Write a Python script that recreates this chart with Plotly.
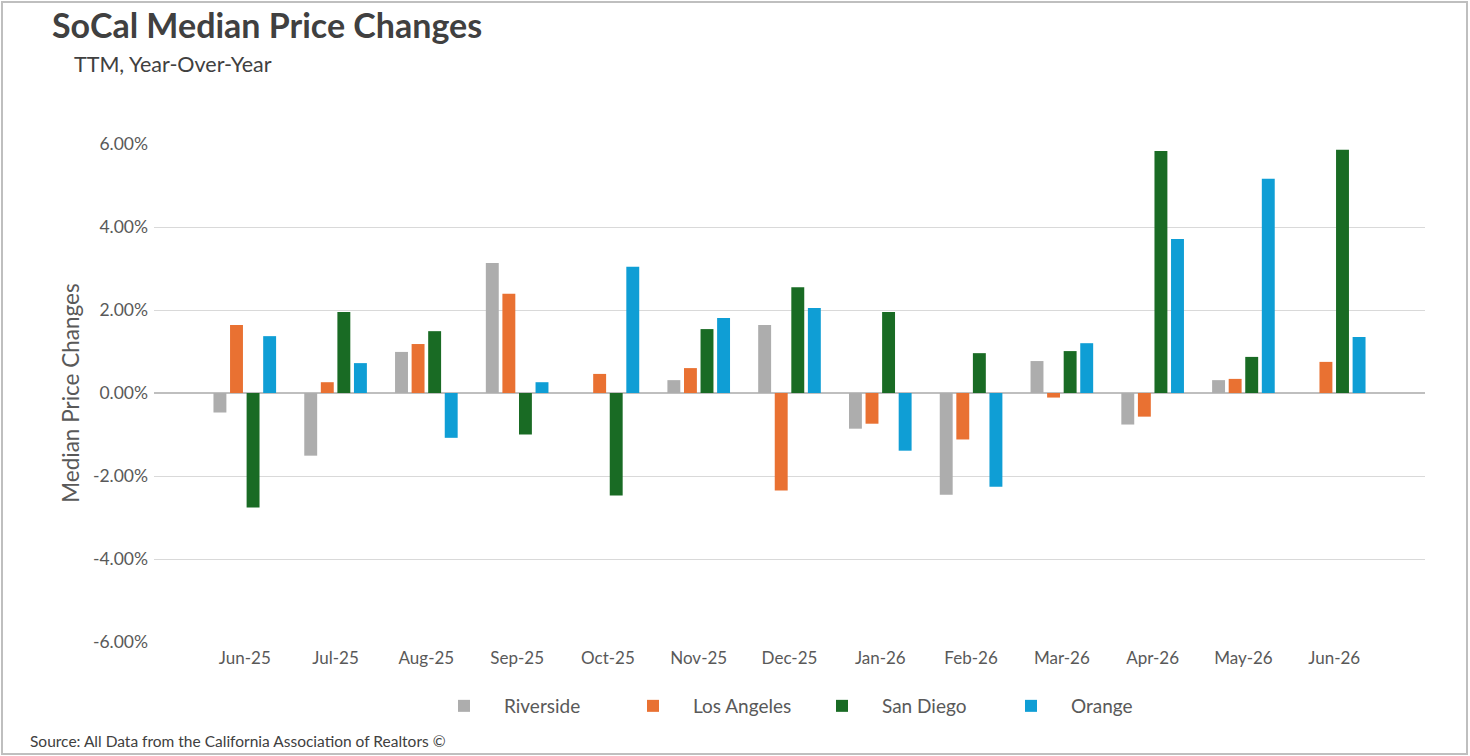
import plotly.graph_objects as go

months = ["Jun-25", "Jul-25", "Aug-25", "Sep-25", "Oct-25", "Nov-25", "Dec-25",
          "Jan-26", "Feb-26", "Mar-26", "Apr-26", "May-26", "Jun-26"]

riverside = [-0.47, -1.51, 0.99, 3.13, 0.00, 0.31, 1.64, -0.86, -2.45, 0.77, -0.76, 0.31, 0.00]
los_angeles = [1.64, 0.26, 1.18, 2.39, 0.46, 0.60, -2.35, -0.74, -1.12, -0.11, -0.57, 0.34, 0.75]
san_diego = [-2.76, 1.95, 1.49, -1.00, -2.47, 1.54, 2.55, 1.95, 0.96, 1.01, 5.83, 0.87, 5.86]
orange = [1.37, 0.72, -1.08, 0.26, 3.04, 1.81, 2.05, -1.39, -2.26, 1.20, 3.71, 5.16, 1.35]

y_ticks = [-6, -4, -2, 0, 2, 4, 6]
y_tick_labels = ["-6.00%", "-4.00%", "-2.00%", "0.00%", "2.00%", "4.00%", "6.00%"]

series = [
    ("Riverside", riverside, "#ADADAD"),
    ("Los Angeles", los_angeles, "#E97132"),
    ("San Diego", san_diego, "#196B24"),
    ("Orange", orange, "#0F9ED5"),
]

W, H = 1470, 756
L, R, T, B = 154, 45, 144, 114
PW, PH = W - L - R, H - T - B


def px(x):
    return (x - L) / PW


def py(y):
    return (H - B - y) / PH


fig = go.Figure()
for name, vals, color in series:
    fig.add_trace(go.Bar(x=months, y=vals, name=name, marker_color=color,
                         marker_line_width=0))

FONT = "Lato, 'Open Sans', sans-serif"
fig.update_layout(
    width=W, height=H,
    margin=dict(l=L, r=R, t=T, b=B, pad=0),
    paper_bgcolor="white", plot_bgcolor="white",
    barmode="group", bargap=0.27, bargroupgap=0.22,
    font=dict(family=FONT, color="#595959"),
    showlegend=True,
    legend=dict(orientation="h", x=px(802), xanchor="center", y=py(706), yanchor="middle",
                font=dict(size=19, color="#595959"), traceorder="normal",
                itemwidth=70, entrywidth=104, entrywidthmode="pixels"),
    xaxis=dict(type="category", range=[-1, 13], showgrid=False, zeroline=False,
               showline=False, ticks="", tickfont=dict(size=17, color="#595959"),
               ticklabelstandoff=4),
    yaxis=dict(range=[-6, 6], tickvals=y_ticks, ticktext=y_tick_labels,
               showgrid=True, gridcolor="#D9D9D9", gridwidth=1,
               zeroline=True, zerolinecolor="#BFBFBF", zerolinewidth=2,
               showline=False, ticks="", tickfont=dict(size=17.5, color="#595959"),
               ticklabelstandoff=5,
               title=dict(text="Median Price Changes", font=dict(size=22.5, color="#595959"),
                          standoff=7)),
    annotations=[
        dict(text="<b>SoCal Median Price Changes</b>", xref="paper", yref="paper",
             x=px(50), y=py(25), xanchor="left", yanchor="middle", showarrow=False,
             font=dict(size=34, color="#404040", family=FONT)),
        dict(text="TTM, Year-Over-Year", xref="paper", yref="paper",
             x=px(72), y=py(64), xanchor="left", yanchor="middle", showarrow=False,
             font=dict(size=21.5, color="#404040", family=FONT)),
        dict(text="Source: All Data from the California Association of Realtors ©",
             xref="paper", yref="paper", x=px(28), y=py(741), xanchor="left",
             yanchor="middle", showarrow=False,
             font=dict(size=15.5, color="#404040", family=FONT)),
    ],
    shapes=[
        dict(type="rect", xref="paper", yref="paper", x0=px(2), x1=px(1467),
             y0=py(754), y1=py(2), line=dict(color="#BFBFBF", width=2),
             fillcolor="rgba(0,0,0,0)", layer="below"),
    ],
)

fig.write_html("out.html", config={"displayModeBar": False},
               post_script="document.body.style.margin='0';")
